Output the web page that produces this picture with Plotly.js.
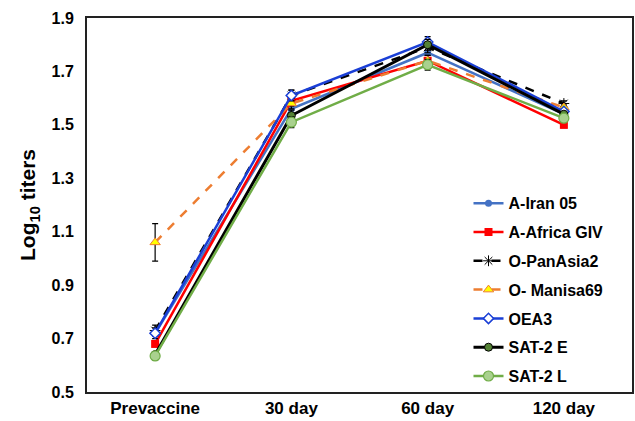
<!DOCTYPE html>
<html><head><meta charset="utf-8">
<script src="https://cdn.plot.ly/plotly-3.0.1.min.js"></script>
<style>body{margin:0;background:#fff}#c{width:635px;height:421px}</style>
</head><body><div id="c"></div>
<script>
const categories = ["Prevaccine", "30 day", "60 day", "120 day"];
const names = ["A-Iran 05", "A-Africa GIV", "O-PanAsia2", "O- Manisa69", "OEA3", "SAT-2 E", "SAT-2 L"];
const aIran05 = [0.72, 1.56, 1.77, 1.54];
const aAfricaGIV = [0.68, 1.59, 1.74, 1.50];
const oPanAsia2 = [0.73, 1.61, 1.79, 1.58];
const oManisa69 = [1.06, 1.58, 1.74, 1.565];
const oea3 = [0.72, 1.61, 1.81, 1.55];
const sat2E = [0.64, 1.535, 1.80, 1.54];
const sat2L = [0.635, 1.51, 1.725, 1.525];
const errAIran05 = [0.01, 0.02, 0.02, 0.01];
const errAAfrica = [0.01, 0.02, 0.02, 0.01];
const errPanAsia = [0.02, 0.02, 0.02, 0.01];
const errManisa = [0.07, 0.02, 0.02, 0.01];
const errOEA3 = [0.02, 0.02, 0.02, 0.01];
const errSat2E = [0.01, 0.02, 0.02, 0.01];
const errSat2L = [0.015, 0.02, 0.02, 0.01];

const seriesValues = [aIran05, aAfricaGIV, oPanAsia2, oManisa69, oea3, sat2E, sat2L];
const seriesErr = [errAIran05, errAAfrica, errPanAsia, errManisa, errOEA3, errSat2E, errSat2L];
const styles = [
  {line:{color:"#4472C4", width:2.5}, marker:{symbol:"circle", size:7, color:"#4472C4"}},
  {line:{color:"#FF0000", width:2.5}, marker:{symbol:"square", size:8, color:"#FF0000"}},
  {line:{color:"#000000", width:2.5, dash:"dash"}, marker:{symbol:"asterisk-open", size:9, color:"#000000", line:{color:"#000000", width:1}}},
  {line:{color:"#ED7D31", width:2.5, dash:"dash"}, marker:{symbol:"triangle-up", size:9, color:"#FFFF00", line:{color:"#ED7D31", width:1}}},
  {line:{color:"#1A3FD6", width:2.5}, marker:{symbol:"diamond", size:8, color:"#FFFFFF", line:{color:"#1A3FD6", width:1.5}}},
  {line:{color:"#000000", width:3}, marker:{symbol:"circle", size:8, color:"#548235", line:{color:"#000000", width:1}}},
  {line:{color:"#70AD47", width:2.5}, marker:{symbol:"circle", size:10, color:"#A9D18E", line:{color:"#70AD47", width:1.2}}}
];

const traces = names.map((n, i) => ({
  type: "scatter", mode: "lines+markers", name: n, legendgroup: "g" + i,
  x: categories, y: seriesValues[i],
  error_y: {type: "data", array: seriesErr[i], visible: true, color: "#000", thickness: 1.2, width: 3},
  line: styles[i].line, marker: styles[i].marker
}));

const layout = {
  width: 635, height: 421,
  margin: {l: 87, r: 3, t: 18, b: 29},
  paper_bgcolor: "#fff", plot_bgcolor: "#fff",
  font: {family: "Liberation Sans, Arial, sans-serif", color: "#000"},
  showlegend: true,
  legend: {x: 0.70, y: 0.55, xanchor: "left", yanchor: "top", tracegroupgap: 5,
    font: {size: 16, family: "Liberation Sans, Arial, sans-serif", weight: "bold", color: "#000"},
    bgcolor: "rgba(0,0,0,0)"},
  xaxis: {type: "category", range: [-0.5, 3.5], showline: true, linecolor: "#222", linewidth: 2, mirror: true,
    ticks: "", showgrid: false, zeroline: false,
    tickfont: {size: 17, weight: "bold"}},
  yaxis: {range: [0.5, 1.9], tick0: 0.5, dtick: 0.2, tickformat: ".1f",
    showline: true, linecolor: "#222", linewidth: 2, mirror: true,
    ticks: "outside", ticklen: 8, tickcolor: "rgba(0,0,0,0)", showgrid: false, zeroline: false,
    tickfont: {size: 16, weight: "bold"},
    title: {text: "Log<sub>10</sub> titers", font: {size: 21, weight: "bold"}, standoff: 10}}
};
Plotly.newPlot("c", traces, layout, {displayModeBar: false, staticPlot: true});
</script></body></html>
